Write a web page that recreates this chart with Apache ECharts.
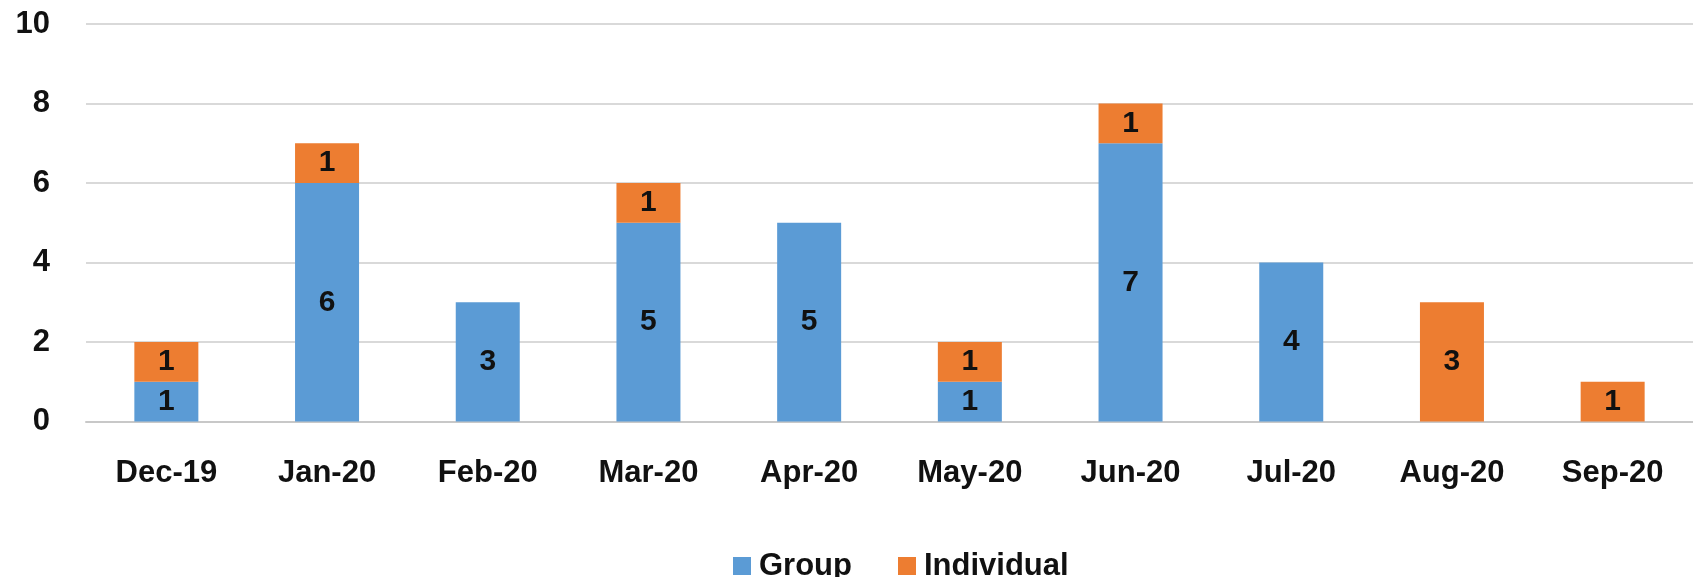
<!DOCTYPE html>
<html>
<head>
<meta charset="utf-8">
<script src="https://cdn.jsdelivr.net/npm/echarts@6/dist/echarts.min.js"></script>
<style>
html,body{margin:0;padding:0;background:#fff;}
#chart{width:1693px;height:577px;}
</style>
</head>
<body>
<div id="chart"></div>
<script>
var categories = ['Dec-19','Jan-20','Feb-20','Mar-20','Apr-20','May-20','Jun-20','Jul-20','Aug-20','Sep-20'];
var groupValues = [1,6,3,5,5,1,7,4,0,0];
var individualValues = [1,1,0,1,0,1,1,0,3,1];
var yTicks = [0,2,4,6,8,10];

var FONT = '"Liberation Sans", Arial, sans-serif';
var chart = echarts.init(document.getElementById('chart'), null, {renderer:'canvas'});
var labelCfg = {
  show: true,
  position: 'inside',
  color: '#111',
  fontFamily: FONT,
  fontWeight: 'bold',
  fontSize: 30,
  formatter: function(p){ return p.value ? String(p.value) : ''; }
};
chart.setOption({
  animation: false,
  backgroundColor: '#fff',
  grid: {left: 86, right: -20, top: 24, bottom: 155.4, containLabel: false},
  legend: {
    data: ['Group','Individual'],
    left: 728,
    top: 545,
    itemWidth: 18,
    itemHeight: 18,
    itemGap: 46,
    icon: 'rect',
    textStyle: {fontFamily: FONT, fontWeight: 'bold', fontSize: 31, color: '#111', padding: [0,0,0,3], lineHeight: 32}
  },
  xAxis: {
    type: 'category',
    data: categories,
    axisLine: {show: true, lineStyle: {color: '#c8c8c8', width: 2}},
    axisTick: {show: false},
    axisLabel: {fontFamily: FONT, fontWeight: 'bold', fontSize: 31, color: '#111', margin: 36}
  },
  yAxis: {
    type: 'value',
    min: yTicks[0],
    max: yTicks[yTicks.length-1],
    interval: yTicks[1]-yTicks[0],
    axisLine: {show: false},
    axisTick: {show: false},
    splitLine: {lineStyle: {color: '#d9d9d9', width: 2}},
    axisLabel: {fontFamily: FONT, fontWeight: 'bold', fontSize: 31, color: '#111', margin: 36}
  },
  series: [
    {name: 'Group', type: 'bar', stack: 'total', data: groupValues, barWidth: 64,
     itemStyle: {color: '#5B9BD5'}, label: labelCfg},
    {name: 'Individual', type: 'bar', stack: 'total', data: individualValues, barWidth: 64,
     itemStyle: {color: '#ED7D31'}, label: labelCfg}
  ]
});
</script>
</body>
</html>
